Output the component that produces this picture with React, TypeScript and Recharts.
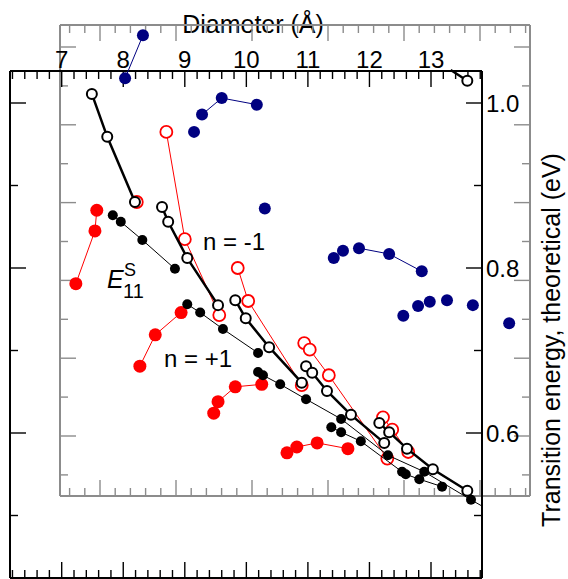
import React from "react";
import { ComposedChart, Scatter, XAxis, YAxis } from "recharts";

const W = 568;
const H = 579;
const FONT = "'Liberation Sans', Arial, Helvetica, sans-serif";

// page layout of the figure: diameter (Å) and energy (eV) <-> pixels
const X7 = 61.7;
const PX_PER_A = 61.55;
const Y1 = 103;
const PX_PER_EV = 825;
const dAt = (px: number) => 7 + (px - X7) / PX_PER_A;
const eAt = (py: number) => 1 - (py - Y1) / PX_PER_EV;
// second (grey) frame uses its own unlabelled grid
const gxAt = (px: number) => (px - 100) / 76;
const gyAt = (py: number) => (436 - py) / 77.8;

const BLACK = { left: 10, right: 482, top: 71, bottom: 578 };
const GRAY = { left: 60, right: 530, top: 25, bottom: 496 };
const ALL = { left: 10, right: 530, top: 25, bottom: 578 };

// tick values
const diameterLabels = [7, 8, 9, 10, 11, 12, 13];
const energyLabels = [0.6, 0.8, 1.0];
const energyTicks = [0.5, 0.6, 0.7, 0.8, 0.9, 1.0];
const diameterTicks: number[] = [];
for (let i = 62; i <= 138; i += 2) diameterTicks.push(i / 10);
const grayXTicks: number[] = [];
for (let i = -2; i <= 28; i++) grayXTicks.push(i / 5);
const grayYTicks: number[] = [];
for (let i = -1; i <= 10; i++) grayYTicks.push(i / 2);

// [diameter (Å), energy (eV)]
type P = [number, number];
const navyLinked1: P[] = [[8.03, 1.030], [8.32, 1.082]];
const navyLinked2: P[] = [[9.28, 0.986], [9.60, 1.006], [10.17, 0.998]];
const navyLinked3: P[] = [[11.83, 0.824], [12.32, 0.817], [12.85, 0.796]];
const navyLoose: P[] = [
  [9.15, 0.965], [10.30, 0.872], [11.42, 0.812], [11.57, 0.821], [12.55, 0.742],
  [12.79, 0.754], [12.98, 0.759], [13.26, 0.761], [13.68, 0.755], [14.27, 0.733],
];

const redFillA: P[] = [[7.23, 0.781], [7.54, 0.845], [7.57, 0.870]];
const redFillB: P[] = [[8.27, 0.681], [8.52, 0.719], [8.94, 0.746]];
const redFillC: P[] = [[9.47, 0.624], [9.54, 0.638], [9.82, 0.656], [10.25, 0.659]];
const redFillD: P[] = [[10.66, 0.576], [10.82, 0.583], [11.15, 0.588], [11.65, 0.581]];

const redOpenA: P[] = [[8.70, 0.965], [9.00, 0.835], [9.56, 0.743]];
const redOpenB: P[] = [[9.86, 0.800], [10.03, 0.760], [10.90, 0.658]];
const redOpenC: P[] = [[10.94, 0.709], [11.03, 0.701], [11.34, 0.670], [12.29, 0.569]];
const redOpenD: P[] = [[12.22, 0.619], [12.37, 0.604], [12.63, 0.577]];
const redOpenLoose: P[] = [[8.22, 0.880]];

const blackFillA: P[] = [[7.83, 0.864], [7.96, 0.856], [8.31, 0.834], [8.84, 0.799]];
const blackFillB: P[] = [[9.04, 0.756], [9.25, 0.746], [9.62, 0.726], [10.19, 0.697]];
const blackFillC: P[] = [
  [10.19, 0.674], [10.27, 0.670], [10.55, 0.659], [10.97, 0.641], [11.54, 0.617],
  [12.30, 0.573], [12.89, 0.553], [13.65, 0.519], [13.84, 0.511],
];
const blackFillD: P[] = [
  [11.38, 0.607], [11.54, 0.601], [11.86, 0.590], [12.53, 0.553], [12.59, 0.550],
  [12.81, 0.544], [13.18, 0.535],
];

const blackOpenA: P[] = [[7.49, 1.011], [7.74, 0.959], [8.19, 0.880]];
const blackOpenB: P[] = [[8.63, 0.874], [8.73, 0.856], [9.04, 0.812], [9.54, 0.755]];
const blackOpenC: P[] = [[9.82, 0.761], [9.99, 0.739], [10.37, 0.704], [10.90, 0.661]];
const blackOpenD: P[] = [[10.97, 0.681], [11.07, 0.673], [11.31, 0.651], [11.70, 0.622], [12.24, 0.588]];
const blackOpenE: P[] = [[12.16, 0.612], [12.32, 0.601], [12.61, 0.581], [13.03, 0.556], [13.59, 0.530]];
const blackOpenTop: P[] = [[13.32, 1.040], [13.59, 1.027]];

const NAVY = "#000080";
const RED = "#ff0000";
const GREY = "#8c8c8c";

type Style = { r: number; fill: string; stroke: string; sw: number; lineColor: string; lineWidth: number };
const navyDot: Style = { r: 6, fill: NAVY, stroke: "none", sw: 0, lineColor: NAVY, lineWidth: 1 };
const redDot: Style = { r: 6.5, fill: RED, stroke: "none", sw: 0, lineColor: RED, lineWidth: 1 };
const redRing: Style = { r: 6, fill: "#fff", stroke: RED, sw: 1.8, lineColor: RED, lineWidth: 1 };
const blackDot: Style = { r: 5, fill: "#000", stroke: "none", sw: 0, lineColor: "#000", lineWidth: 1 };
const blackRing: Style = { r: 5, fill: "#fff", stroke: "#000", sw: 2, lineColor: "#000", lineWidth: 2.5 };

// lastHidden: the last point only steers the line (it lies under the frame edge)
const series: { pts: P[]; style: Style; line: boolean; lastHidden?: boolean; firstHidden?: boolean }[] = [
  { pts: navyLinked1, style: navyDot, line: true },
  { pts: navyLinked2, style: navyDot, line: true },
  { pts: navyLinked3, style: navyDot, line: true },
  { pts: navyLoose, style: navyDot, line: false },
  { pts: redFillA, style: redDot, line: true },
  { pts: redFillB, style: redDot, line: true },
  { pts: redFillC, style: redDot, line: true },
  { pts: redFillD, style: redDot, line: true },
  { pts: redOpenA, style: redRing, line: true },
  { pts: redOpenB, style: redRing, line: true },
  { pts: redOpenC, style: redRing, line: true },
  { pts: redOpenD, style: redRing, line: true },
  { pts: redOpenLoose, style: redRing, line: false },
  { pts: blackFillA, style: blackDot, line: true },
  { pts: blackFillB, style: blackDot, line: true },
  { pts: blackFillC, style: blackDot, line: true, lastHidden: true },
  { pts: blackFillD, style: blackDot, line: true },
  { pts: blackOpenA, style: blackRing, line: true },
  { pts: blackOpenB, style: blackRing, line: true },
  { pts: blackOpenC, style: blackRing, line: true },
  { pts: blackOpenD, style: blackRing, line: true },
  { pts: blackOpenE, style: blackRing, line: true },
  { pts: blackOpenTop, style: blackRing, line: true, firstHidden: true },
];

type Side = "top" | "bottom" | "left" | "right";

// inward tick marks, long on major values, optional label outside
function makeTick(side: Side, color: string, isMajor: (v: number) => boolean, label?: (v: number) => string) {
  return (p: any) => {
    const v = p.payload.value;
    const major = isMajor(v);
    const len = major ? 16 : 8;
    let x2 = p.x;
    let y2 = p.y;
    if (side === "top") y2 = p.y + len;
    if (side === "bottom") y2 = p.y - len;
    if (side === "left") x2 = p.x + len;
    if (side === "right") x2 = p.x - len;
    let txt = null;
    if (label && major) {
      if (side === "top")
        txt = (
          <text x={p.x} y={p.y - 3} textAnchor="middle" fontSize={24} fontFamily={FONT} fill="#000">
            {label(v)}
          </text>
        );
      if (side === "right")
        txt = (
          <text x={p.x + 4} y={p.y + 8.5} textAnchor="start" fontSize={24} fontFamily={FONT} fill="#000">
            {label(v)}
          </text>
        );
    }
    return (
      <g>
        <line x1={p.x} y1={p.y} x2={x2} y2={y2} stroke={color} strokeWidth={1.4} />
        {txt}
      </g>
    );
  };
}

const isInt = (v: number) => Math.abs(v - Math.round(v)) < 1e-6;
const isEvenTenth = (v: number) => Math.round(v * 10) % 2 === 0;
const nothing = () => <g />;

const layer: React.CSSProperties = { position: "absolute", left: 0, top: 0 };

function GrayFrame() {
  const axisLine = { stroke: GREY, strokeWidth: 2 };
  const xd = [gxAt(GRAY.left), gxAt(GRAY.right)];
  const yd = [gyAt(GRAY.bottom), gyAt(GRAY.top)];
  const common = { type: "number" as const, allowDataOverflow: true, interval: 0 as const, tickSize: 0, tickMargin: 0, tickLine: false, axisLine };
  // the frame axes need a (blank) item each so their scales get built
  const anchor = [{ x: xd[0], y: yd[0] }];
  return (
    <ComposedChart
      width={W}
      height={H}
      margin={{ top: GRAY.top - 1, left: GRAY.left - 1, right: W - GRAY.right - 1, bottom: H - GRAY.bottom - 1 }}
    >
      <XAxis {...common} dataKey="x" xAxisId="gt" orientation="top" height={1} domain={xd} ticks={grayXTicks} tick={makeTick("top", GREY, isInt)} />
      <XAxis {...common} dataKey="x" xAxisId="gb" orientation="bottom" height={1} domain={xd} ticks={grayXTicks} tick={makeTick("bottom", GREY, isInt)} />
      <YAxis {...common} dataKey="y" yAxisId="gl" orientation="left" width={1} domain={yd} ticks={grayYTicks} tick={makeTick("left", GREY, isInt)} />
      <YAxis {...common} dataKey="y" yAxisId="gr" orientation="right" width={1} domain={yd} ticks={grayYTicks} tick={makeTick("right", GREY, isInt)} />
      <Scatter xAxisId="gt" yAxisId="gl" data={anchor} shape={nothing} isAnimationActive={false} />
      <Scatter xAxisId="gb" yAxisId="gr" data={anchor} shape={nothing} isAnimationActive={false} />
      <text x={253} y={33} textAnchor="middle" fontSize={25} fontFamily={FONT} fill="#000">
        Diameter (Å)
      </text>
      <text x={560} y={340} textAnchor="middle" fontSize={25} fontFamily={FONT} fill="#000" transform="rotate(-90 560 340)">
        Transition energy, theoretical (eV)
      </text>
    </ComposedChart>
  );
}

function BlackFrame() {
  const axisLine = { stroke: "#000", strokeWidth: 2 };
  const xd = [dAt(BLACK.left), dAt(BLACK.right)];
  const yd = [eAt(BLACK.bottom), eAt(BLACK.top)];
  const common = { type: "number" as const, allowDataOverflow: true, interval: 0 as const, tickSize: 0, tickMargin: 0, tickLine: false, axisLine };
  const dLabel = (v: number) => (diameterLabels.includes(Math.round(v)) ? String(Math.round(v)) : "");
  const eLabel = (v: number) => (energyLabels.some((e) => Math.abs(e - v) < 1e-6) ? v.toFixed(1) : "");
  const anchor = [{ x: xd[0], y: yd[0] }];
  return (
    <ComposedChart
      width={W}
      height={H}
      margin={{ top: BLACK.top - 1, left: BLACK.left - 1, right: W - BLACK.right - 1, bottom: H - BLACK.bottom - 1 }}
    >
      <XAxis {...common} dataKey="x" xAxisId="bt" orientation="top" height={1} domain={xd} ticks={diameterTicks} tick={makeTick("top", "#000", isInt, dLabel)} />
      <XAxis {...common} dataKey="x" xAxisId="bb" orientation="bottom" height={1} domain={xd} ticks={diameterTicks} tick={makeTick("bottom", "#000", isInt)} />
      <YAxis {...common} dataKey="y" yAxisId="bl" orientation="left" width={1} domain={yd} ticks={energyTicks} tick={makeTick("left", "#000", isEvenTenth)} />
      <YAxis {...common} dataKey="y" yAxisId="br" orientation="right" width={1} domain={yd} ticks={energyTicks} tick={makeTick("right", "#000", isEvenTenth, eLabel)} />
      <Scatter xAxisId="bt" yAxisId="bl" data={anchor} shape={nothing} isAnimationActive={false} />
      <Scatter xAxisId="bb" yAxisId="br" data={anchor} shape={nothing} isAnimationActive={false} />
    </ComposedChart>
  );
}

function DataLayer() {
  return (
    <ComposedChart
      width={W}
      height={H}
      margin={{ top: ALL.top, left: ALL.left, right: W - ALL.right, bottom: H - ALL.bottom }}
    >
      <XAxis type="number" dataKey="x" hide allowDataOverflow domain={[dAt(ALL.left), dAt(ALL.right)]} />
      <YAxis type="number" dataKey="y" hide allowDataOverflow domain={[eAt(ALL.bottom), eAt(ALL.top)]} />
      {series.map((s, i) => {
        const st = s.style;
        const n = s.pts.length;
        return (
          <Scatter
            key={i}
            data={s.pts.map(([x, y]) => ({ x, y }))}
            fill={st.fill}
            line={s.line ? { stroke: st.lineColor, strokeWidth: st.lineWidth } : false}
            shape={(p: any) =>
              (s.lastHidden && p.index === n - 1) || (s.firstHidden && p.index === 0) ? (
                <g />
              ) : (
                <circle cx={p.cx} cy={p.cy} r={st.r} fill={st.fill} stroke={st.stroke} strokeWidth={st.sw} />
              )
            }
            isAnimationActive={false}
          />
        );
      })}
      <text x={203} y={250} fontSize={24} fontFamily={FONT} fill="#000">
        n = -1
      </text>
      <text x={164} y={367} fontSize={24} fontFamily={FONT} fill="#000">
        n = +1
      </text>
      <text x={107} y={288} fontSize={25} fontStyle="italic" fontFamily={FONT} fill="#000">
        E
      </text>
      <text x={124} y={276} fontSize={18} fontFamily={FONT} fill="#000">
        S
      </text>
      <text x={123} y={298} fontSize={20} fontFamily={FONT} fill="#000">
        11
      </text>
    </ComposedChart>
  );
}

export default function App() {
  return (
    <div style={{ position: "absolute", left: 0, top: 0, width: W, height: H, background: "#fff" }}>
      <div style={layer}>
        <GrayFrame />
      </div>
      <div style={layer}>
        <BlackFrame />
      </div>
      <div style={layer}>
        <DataLayer />
      </div>
    </div>
  );
}
